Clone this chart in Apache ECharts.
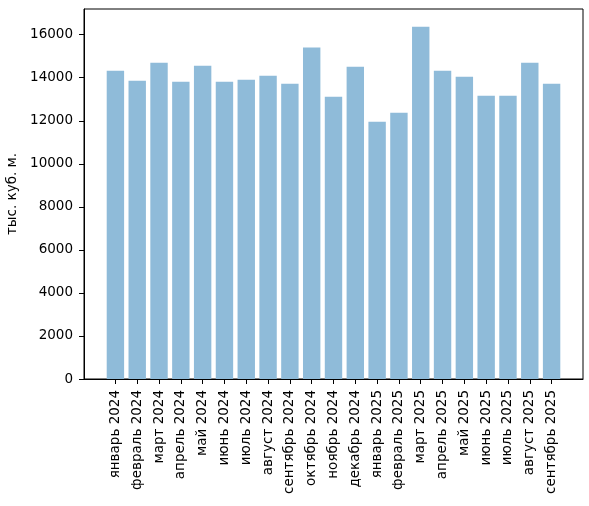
<!DOCTYPE html>
<html>
<head>
<meta charset="utf-8">
<script src="https://cdn.jsdelivr.net/npm/echarts@6/dist/echarts.min.js"></script>
<style>
	html, body { margin: 0; padding: 0; background: #fff; }
	#chart { width: 589px; height: 506px; }
</style>
</head>
<body>
<div id="chart"></div>
<script>
var months = ["январь 2024", "февраль 2024", "март 2024", "апрель 2024", "май 2024", "июнь 2024",
	"июль 2024", "август 2024", "сентябрь 2024", "октябрь 2024", "ноябрь 2024", "декабрь 2024",
	"январь 2025", "февраль 2025", "март 2025", "апрель 2025", "май 2025", "июнь 2025",
	"июль 2025", "август 2025", "сентябрь 2025"];
var volumes = [14330, 13860, 14700, 13810, 14560, 13810, 13910, 14090, 13720, 15400, 13120, 14510,
	11950, 12370, 16370, 14330, 14050, 13160, 13160, 14700, 13720];
var yTicks = [0, 2000, 4000, 6000, 8000, 10000, 12000, 14000, 16000];

var chart = echarts.init(document.getElementById("chart"));
var font = "DejaVu Sans";
var positions = months.map(function(m, i) { return i; });

var option = {
	animation: false,
	grid: {
		left: 84, right: 6, top: 9, bottom: 127,
		outerBoundsMode: "none",
		show: true, borderColor: "#000", borderWidth: 1
	},
	xAxis: {
		type: "value",
		min: -1.44,
		max: 21.44,
		splitLine: { show: false },
		axisLine: { show: true, onZero: false, lineStyle: { color: "#000" } },
		axisTick: { show: true, length: 5, customValues: positions, lineStyle: { color: "#000" } },
		axisLabel: {
			customValues: positions,
			rotate: 90,
			fontFamily: font,
			fontSize: 13.5,
			color: "#000",
			margin: 11,
			formatter: function(v) { return months[Math.round(v)]; }
		}
	},
	yAxis: {
		type: "value",
		min: 0,
		max: 17195,
		name: "тыс. куб. м.",
		nameLocation: "middle",
		nameGap: 54,
		nameTextStyle: { fontFamily: font, fontSize: 13.5, color: "#000" },
		splitLine: { show: false },
		axisLine: { show: true, onZero: false, lineStyle: { color: "#000" } },
		axisTick: { show: true, length: 5, customValues: yTicks, lineStyle: { color: "#000" } },
		axisLabel: {
			customValues: yTicks,
			fontFamily: font,
			fontSize: 13.5,
			color: "#000",
			margin: 11,
			formatter: function(v) { return String(v); }
		}
	},
	series: [{
		type: "bar",
		barWidth: 17.4,
		itemStyle: { color: "#8fbbd9", borderWidth: 0 },
		data: volumes.map(function(v, i) { return [i, v]; })
	}]
};
chart.setOption(option);
</script>
</body>
</html>
